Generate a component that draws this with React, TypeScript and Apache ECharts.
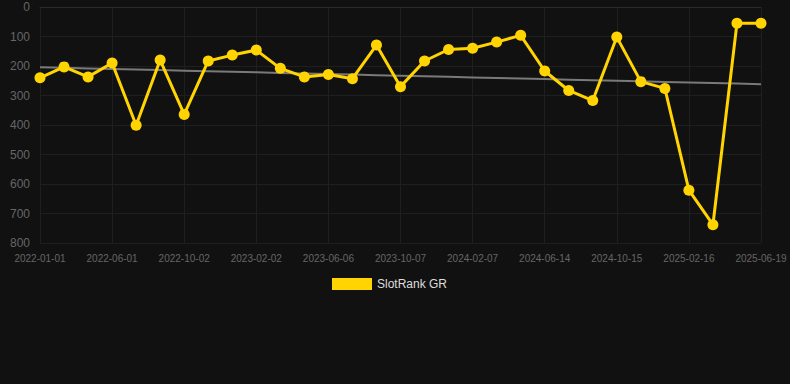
import React, { useEffect, useRef } from "react";
import * as echarts from "echarts";

const dates = [
  "2022-01-01", "2022-02-20", "2022-04-11", "2022-06-01", "2022-07-12", "2022-08-22",
  "2022-10-02", "2022-11-12", "2022-12-23", "2023-02-02", "2023-03-15", "2023-04-26",
  "2023-06-06", "2023-07-17", "2023-08-27", "2023-10-07", "2023-11-17", "2023-12-28",
  "2024-02-07", "2024-03-20", "2024-05-02", "2024-06-14", "2024-07-25", "2024-09-04",
  "2024-10-15", "2024-11-25", "2025-01-05", "2025-02-16", "2025-03-29", "2025-05-09",
  "2025-06-19",
];

const ranks = [
  240, 203, 237, 190, 401, 180, 364, 183, 163, 146, 208, 237, 229, 243, 129, 270,
  183, 144, 140, 119, 96, 217, 283, 317, 102, 253, 276, 621, 738, 55, 55,
];

const yTicks = { min: 0, max: 800, interval: 100 };

function linearTrend(values: number[]): number[] {
  const n = values.length;
  const mx = (n - 1) / 2;
  const my = values.reduce((a, b) => a + b, 0) / n;
  let num = 0;
  let den = 0;
  values.forEach((v, i) => {
    num += (i - mx) * (v - my);
    den += (i - mx) * (i - mx);
  });
  const slope = num / den;
  return values.map((_, i) => +(my + slope * (i - mx)).toFixed(2));
}

export default function App() {
  const ref = useRef<HTMLDivElement>(null);
  useEffect(() => {
    if (!ref.current) return;
    const chart = echarts.init(ref.current, undefined, { renderer: "svg" });
    chart.setOption({
      animation: false,
      backgroundColor: "#111111",
      grid: { left: 40, right: 29, top: 7, bottom: 141, containLabel: false },
      legend: {
        data: [{ name: "SlotRank GR", icon: "rect" }],
        top: 273,
        left: 327,
        itemWidth: 40,
        itemHeight: 12,
        itemGap: 10,
        textStyle: { color: "#dddddd", fontSize: 12, fontFamily: "Liberation Sans, Arial, sans-serif" },
      },
      xAxis: {
        type: "category",
        data: dates,
        boundaryGap: false,
        axisLine: { show: true, lineStyle: { color: "#2a2a2a" } },
        axisTick: { show: false },
        axisLabel: {
          interval: 2,
          color: "#666666",
          fontSize: 10,
          margin: 10,
          fontFamily: "Liberation Sans, Arial, sans-serif",
        },
        splitLine: { show: true, interval: 2, lineStyle: { color: "#1f1f1f", width: 1 } },
      },
      yAxis: {
        type: "value",
        inverse: true,
        min: yTicks.min,
        max: yTicks.max,
        interval: yTicks.interval,
        axisLine: { show: false },
        axisTick: { show: false },
        axisLabel: {
          color: "#666666",
          fontSize: 12,
          margin: 10,
          fontFamily: "Liberation Sans, Arial, sans-serif",
        },
        splitLine: { show: true, lineStyle: { color: "#1f1f1f", width: 1 } },
      },
      series: [
        {
          name: "Trend",
          type: "line",
          data: linearTrend(ranks),
          symbol: "none",
          lineStyle: { color: "#7a7a7a", width: 2 },
          silent: true,
          z: 1,
        },
        {
          name: "SlotRank GR",
          type: "line",
          data: ranks,
          symbol: "circle",
          symbolSize: 11,
          itemStyle: { color: "#FFD400" },
          lineStyle: { color: "#FFD400", width: 3 },
          z: 2,
        },
      ],
    });
    return () => chart.dispose();
  }, []);
  return (
    <div
      ref={ref}
      style={{ position: "fixed", left: 0, top: 0, width: 790, height: 384 }}
    />
  );
}
